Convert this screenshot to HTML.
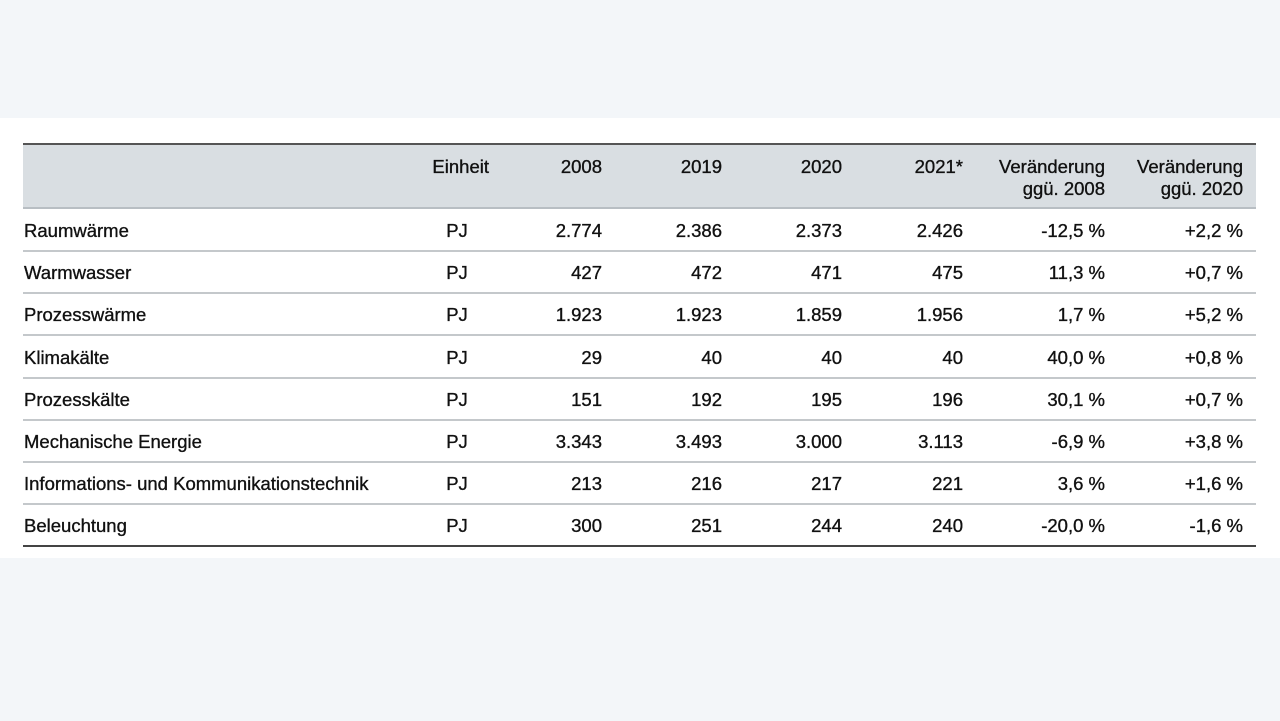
<!DOCTYPE html>
<html><head><meta charset="utf-8"><style>
body{margin:0;width:1280px;height:721px;background:#f3f6f9;position:relative;font-family:"Liberation Sans",sans-serif;color:#111;overflow:hidden}
.panel{position:absolute;left:0;top:118px;width:1280px;height:440px;background:#fff}
.hdr{position:absolute;left:23px;top:143px;width:1233px;height:66px;background:#d9dee2;border-top:2px solid #555;box-sizing:border-box;border-bottom:2px solid #b8bec3}
.line{position:absolute;left:23px;width:1233px;height:2px;background:#c4c8cb}
.t{position:absolute;font-size:18.5px;line-height:20px;white-space:nowrap;-webkit-text-stroke:0.35px #111}
.r{text-align:right}
</style></head><body>
<div class="panel"></div>
<div class="hdr"></div>
<div id="c"></div>
<script>
var c=document.getElementById('c'),h='';
function t(x,y,s,al){
 if(al==='r')h+='<div class="t r" style="right:'+(1280-x)+'px;top:'+(y-10)+'px">'+s+'</div>';
 else if(al==='c')h+='<div class="t" style="left:'+(x-50)+'px;width:100px;text-align:center;top:'+(y-10)+'px">'+s+'</div>';
 else h+='<div class="t" style="left:'+x+'px;top:'+(y-10)+'px">'+s+'</div>';
}
var R=[489,602,722,842,963,1105,1243];
t(489,167,'Einheit','r');t(602,167,'2008','r');t(722,167,'2019','r');t(842,167,'2020','r');t(963,167,'2021*','r');
t(1105,167,'Veränderung','r');t(1105,189,'ggü. 2008','r');t(1243,167,'Veränderung','r');t(1243,189,'ggü. 2020','r');
var rows=[['Raumwärme','2.774','2.386','2.373','2.426','-12,5 %','+2,2 %'],
['Warmwasser','427','472','471','475','11,3 %','+0,7 %'],
['Prozesswärme','1.923','1.923','1.859','1.956','1,7 %','+5,2 %'],
['Klimakälte','29','40','40','40','40,0 %','+0,8 %'],
['Prozesskälte','151','192','195','196','30,1 %','+0,7 %'],
['Mechanische Energie','3.343','3.493','3.000','3.113','-6,9 %','+3,8 %'],
['Informations- und Kommunikationstechnik','213','216','217','221','3,6 %','+1,6 %'],
['Beleuchtung','300','251','244','240','-20,0 %','-1,6 %']];
for(var i=0;i<rows.length;i++){
 var y=231+i*42.2,r=rows[i];
 t(24,y,r[0],'l');t(457,y,'PJ','c');
 for(var j=1;j<7;j++)t(R[j],y,r[j],'r');
 var ly=Math.round(251+i*42.2);
 h+='<div class="line" style="top:'+(i==7?545:ly-1)+'px;'+(i==7?'background:#444;':'')+'"></div>';
}
c.innerHTML=h;
</script>
</body></html>
